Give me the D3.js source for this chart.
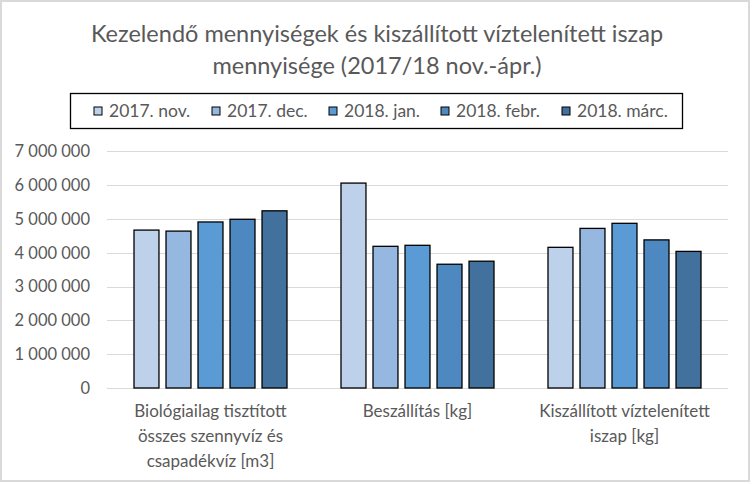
<!DOCTYPE html>
<html><head><meta charset="utf-8">
<script src="https://cdn.jsdelivr.net/npm/d3@7"></script>
<style>
body{margin:0;background:#fff;}
svg text{font-family:Lato,"Open Sans",sans-serif;fill:#595959;}
</style></head>
<body>
<svg id="c" width="752" height="484"></svg>
<script>
const categories = [
  ["Biológiailag tisztított","összes szennyvíz és","csapadékvíz [m3]"],
  ["Beszállítás [kg]"],
  ["Kiszállított víztelenített","iszap [kg]"]
];
const categoryKeys = ["bio","besz","kisz"];
const seriesNames = ["2017. nov.","2017. dec.","2018. jan.","2018. febr.","2018. márc."];
const seriesColors = ["#BDD1EA","#95B7E0","#5B9BD5","#4E88C0","#41719C"];
// values per series across the three categories
const nov17 = [4670000, 6060000, 4160000];
const dec17 = [4640000, 4190000, 4720000];
const jan18 = [4910000, 4220000, 4870000];
const feb18 = [4990000, 3660000, 4380000];
const mar18 = [5240000, 3750000, 4040000];
const seriesValues = [nov17, dec17, jan18, feb18, mar18];
const yTicks = [0,1000000,2000000,3000000,4000000,5000000,6000000,7000000];
const titleLines = ["Kezelendő mennyiségek és kiszállított víztelenített iszap","mennyisége (2017/18 nov.-ápr.)"];

const svg = d3.select("#c");
// outer frame
svg.append("rect").attr("x",1).attr("y",1).attr("width",748).attr("height",480)
  .attr("fill","none").attr("stroke","#D9D9D9").attr("stroke-width",2);

const plot = {left:107, right:728, top:151.3, bottom:388};
const y = d3.scaleLinear().domain([0,7000000]).range([plot.bottom, plot.top]);
const x0 = d3.scaleBand().domain(categoryKeys).range([plot.left, plot.right]).padding(0);
const x1 = d3.scaleBand().domain(seriesNames).range([27, x0.bandwidth()-27]).paddingInner(0.22).paddingOuter(0);

// gridlines
const fmt = v => d3.format(",")(v).replace(/,/g," ");
svg.append("g").selectAll("line").data(yTicks).join("line")
  .attr("x1",plot.left).attr("x2",plot.right)
  .attr("y1",d=>Math.round(y(d))+0.5).attr("y2",d=>Math.round(y(d))+0.5)
  .attr("stroke","#D9D9D9").attr("stroke-width",1);

svg.append("g").selectAll("text").data(yTicks).join("text")
  .attr("x",90).attr("y",d=>y(d)).attr("dy","0.36em")
  .attr("text-anchor","end").attr("font-size",16.5).text(fmt);

// bars
const g = svg.append("g");
seriesNames.forEach((s,si)=>{
  g.append("g").selectAll("rect").data(seriesValues[si]).join("rect")
    .attr("x",(d,i)=>x0(categoryKeys[i])+x1(s))
    .attr("width",x1.bandwidth())
    .attr("y",d=>y(d))
    .attr("height",d=>y(0)-y(d))
    .attr("fill",seriesColors[si])
    .attr("stroke","#000").attr("stroke-width",1.3);
});

// x labels
categories.forEach((lines,i)=>{
  const cx = x0(categoryKeys[i]) + x0.bandwidth()/2;
  const t = svg.append("text").attr("text-anchor","middle").attr("font-size",17);
  lines.forEach((l,j)=>{
    t.append("tspan").attr("x",cx).attr("y",417+j*25).text(l);
  });
});

// title
titleLines.forEach((l,j)=>{
  svg.append("text").attr("x",377).attr("y",42+j*32).attr("text-anchor","middle")
    .attr("font-size",23.5).text(l);
});

// legend
svg.append("rect").attr("x",70.5).attr("y",93.5).attr("width",612).attr("height",35)
  .attr("fill","none").attr("stroke","#000").attr("stroke-width",1.3);
const legX = [94,212,329,441,562];
seriesNames.forEach((s,i)=>{
  svg.append("rect").attr("x",legX[i]).attr("y",107).attr("width",8).attr("height",8)
    .attr("fill",seriesColors[i]).attr("stroke","#000").attr("stroke-width",1);
  svg.append("text").attr("x",legX[i]+15).attr("y",111).attr("dy","0.36em")
    .attr("font-size",17.5).text(s);
});
</script>
</body></html>
